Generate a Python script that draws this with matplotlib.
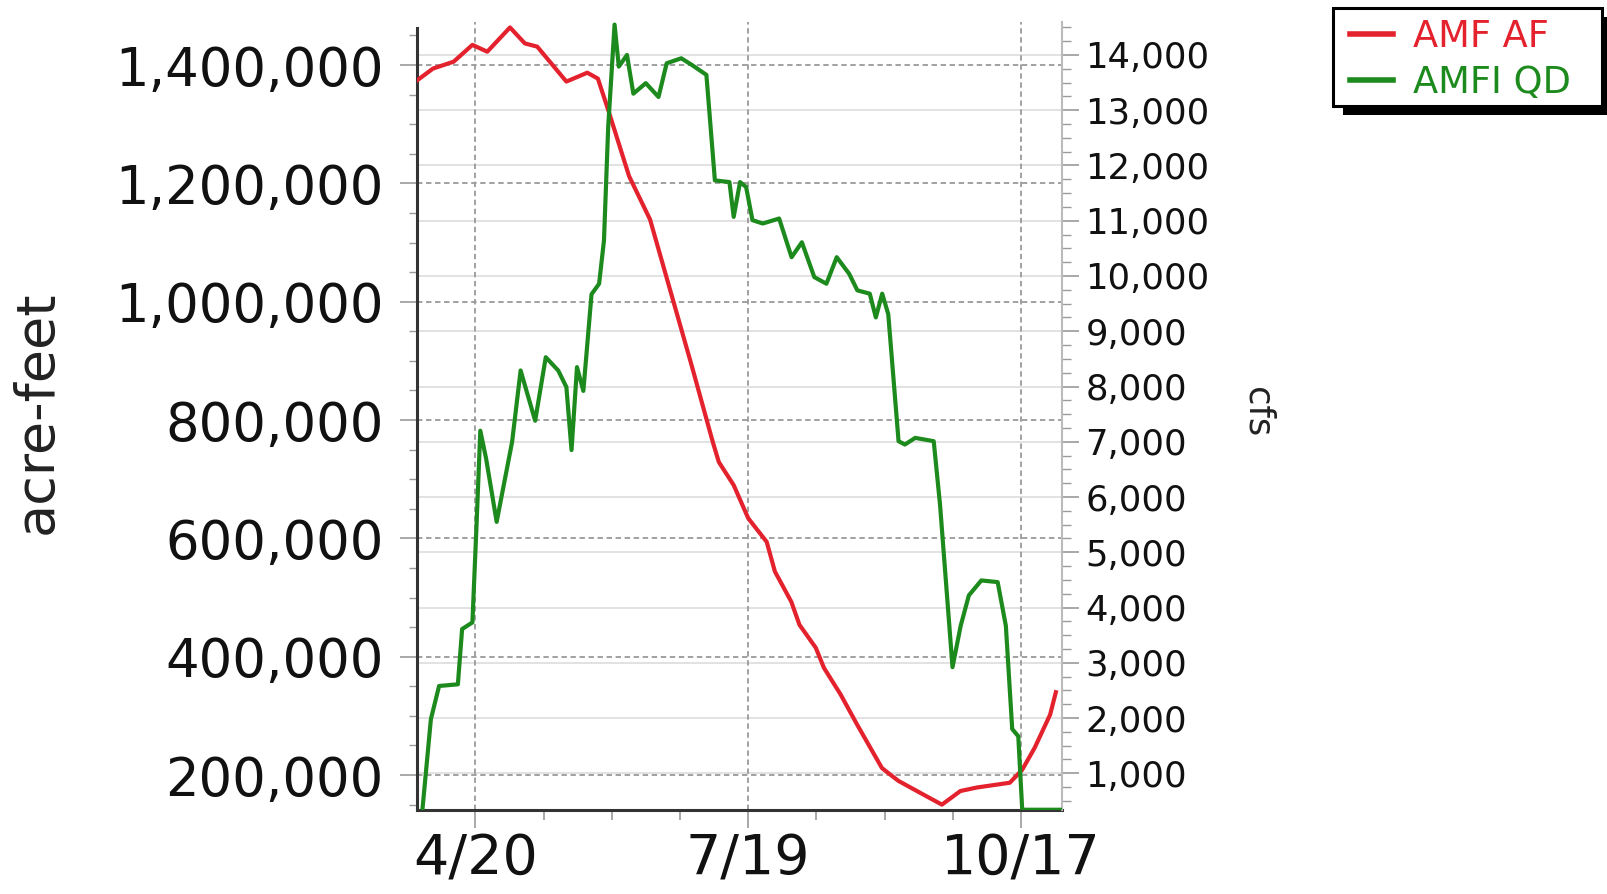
import numpy as np
import pandas as pd
import matplotlib
matplotlib.use("Agg")
import matplotlib.pyplot as plt
from matplotlib.ticker import MultipleLocator, FuncFormatter, FixedLocator
from matplotlib.patches import Rectangle

# days counted from April 1
start = pd.Timestamp("2021-04-01")

af_days = [0, 5.0, 11.8, 18.0, 22.9, 30.4, 35.3, 39.4, 49.0, 55.9,
           59.4, 62.8, 69.7, 76.6, 83.5, 90.4, 97.3, 99.3, 104.2, 109.0,
           115.1, 117.8, 123.2, 125.9, 131.3, 134.0, 139.5, 144.9, 153.1, 155.8,
           158.6, 166.8, 172.9, 179.0, 184.5, 195.3, 199.4, 203.5, 208.6, 210.5]
af_vals = [1375000, 1394000, 1405600, 1434000, 1422500, 1463500, 1436500, 1431000, 1372000, 1387000,
           1377000, 1324000, 1212000, 1139000, 1015000, 891000, 763000, 729000, 690000, 634000,
           594000, 544000, 493000, 454000, 415000, 381000, 336000, 285500, 212000, 201000,
           190000, 167000, 150000, 173000, 179000, 187000, 209000, 246000, 302000, 340000]

qd_days = [1.5, 4.3, 7.0, 13.2, 14.6, 18.0, 19.4, 20.6, 22.5, 26.0,
           31.1, 33.9, 38.7, 42.2, 46.3, 49.0, 50.7, 52.5, 54.6, 57.3,
           59.8, 61.4, 62.8, 64.9, 66.3, 69.0, 71.1, 75.2, 79.4, 82.1,
           86.9, 90.4, 95.2, 98.0, 102.8, 104.2, 106.3, 108.3, 110.4, 113.8,
           119.2, 123.3, 126.7, 130.8, 134.8, 138.2, 142.3, 145.0, 149.1, 151.1,
           153.2, 155.2, 158.6, 160.7, 164.1, 170.2, 172.3, 176.4, 179.1, 181.8,
           185.9, 191.3, 194.0, 196.1, 198.1, 199.4, 213]
qd_vals = [340, 1980, 2580, 2610, 3610, 3730, 5550, 7200, 6700, 5550,
           7000, 8290, 7380, 8530, 8290, 7990, 6850, 8350, 7920, 9670,
           9860, 10640, 12700, 14550, 13790, 14000, 13300, 13490, 13240, 13850,
           13940, 13820, 13640, 11730, 11700, 11070, 11700, 11610, 11010, 10950,
           11040, 10340, 10610, 9980, 9860, 10340, 10040, 9740, 9680, 9250,
           9680, 9310, 7010, 6950, 7070, 7010, 5850, 2920, 3670, 4220,
           4490, 4460, 3670, 1800, 1670, 340, 340]

tick_dates = ["2021-04-20", "2021-07-19", "2021-10-17"]
tick_labels = ["4/20", "7/19", "10/17"]
series_names = ["AMF AF", "AMFI QD"]

RED = "#e3222e"
GREEN = "#1d8a1d"
GRID = "#9a9a9a"
W, H = 1608, 894

af_x = start + pd.to_timedelta(af_days, unit="D")
qd_x = start + pd.to_timedelta(qd_days, unit="D")
major = pd.to_datetime(tick_dates)

fig = plt.figure(figsize=(W / 100, H / 100), dpi=100)
ax = fig.add_axes([0.2593, 0.0940, 0.4011, 0.8814])
ax2 = ax.twinx()

ax.plot(af_x, af_vals, color=RED, lw=3.0, label=series_names[0], zorder=3)
ax2.plot(qd_x, qd_vals, color=GREEN, lw=3.0, label=series_names[1], zorder=3)

ax.set_xlim(start - pd.Timedelta(days=0.3), start + pd.Timedelta(days=212.5))
ax.set_ylim(141000, 1472700)
ax2.set_ylim(336, 14597)

# x ticks
mnum = matplotlib.dates.date2num(major)
step = (mnum[1] - mnum[0]) / 4
ax.xaxis.set_major_locator(FixedLocator(mnum))
ax.xaxis.set_minor_locator(FixedLocator([m + k * step for m in mnum[:-1] for k in (1, 2, 3)]))
ax.set_xticklabels(tick_labels)

ax.yaxis.set_major_locator(MultipleLocator(200000))
ax.yaxis.set_minor_locator(MultipleLocator(50000))
ax.yaxis.set_major_formatter(FuncFormatter(lambda v, p: f"{int(v):,}"))
ax2.yaxis.set_major_locator(MultipleLocator(1000))
ax2.yaxis.set_minor_locator(MultipleLocator(250))
ax2.yaxis.set_major_formatter(FuncFormatter(lambda v, p: f"{int(v):,}"))

ax.tick_params(axis="x", which="major", length=13, width=1.2, color=GRID, labelsize=40, pad=3, labelcolor="#111111")
ax.tick_params(axis="x", which="minor", length=7, width=1.2, color=GRID)
ax.tick_params(axis="y", which="major", length=12, width=1.2, color=GRID, labelsize=38, pad=12, labelcolor="#111111")
ax.tick_params(axis="y", which="minor", length=6, width=1.0, color=GRID)
ax2.tick_params(axis="y", which="major", length=12, width=1.2, color=GRID, labelsize=25.5, pad=5, labelcolor="#111111")
ax2.tick_params(axis="y", which="minor", length=6.5, width=1.0, color=GRID)

# grids: dashed for left axis and dates, light solid for right axis
ax.grid(True, which="major", axis="both", color=GRID, lw=1.3, ls=(0, (3, 2)), zorder=1)
c0, c1 = ax2.get_ylim()
for t in np.arange(1000, 14001, 1000):
    f = (t - c0) / (c1 - c0)
    ax.plot([0, 1], [f, f], transform=ax.transAxes, color="#dddddd", lw=1.2, zorder=0.5)

for a in (ax, ax2):
    a.spines["top"].set_visible(False)
ax.spines["left"].set_color("#333333")
ax.spines["left"].set_linewidth(2.2)
ax.spines["left"].set_bounds(141000, 1462000)
ax.spines["bottom"].set_color("#333333")
ax.spines["bottom"].set_linewidth(2.2)
ax.spines["right"].set_visible(False)
ax2.spines["left"].set_visible(False)
ax2.spines["bottom"].set_visible(False)
ax2.spines["right"].set_color("#bbbbbb")
ax2.spines["right"].set_linewidth(1.5)

ax.set_ylabel("acre-feet", fontsize=39, color="#222222", va="center")
ax.yaxis.set_label_coords(-0.589, 0.505)
ax2.set_ylabel("cfs", fontsize=25.5, color="#222222", rotation=270, va="center")
ax2.yaxis.set_label_coords(1.304, 0.505)

# legend box with hard black drop shadow
bx, by, bw, bh = 1333, 8, 269, 98
fig.add_artist(Rectangle(((bx + 10) / W, 1 - (by + bh + 9) / H), bw / W, bh / H,
                         transform=fig.transFigure, facecolor="black",
                         edgecolor="none", zorder=4))
fig.add_artist(Rectangle((bx / W, 1 - (by + bh) / H), bw / W, bh / H,
                         transform=fig.transFigure, facecolor="white",
                         edgecolor="black", lw=2.2, zorder=4.5))

handles = ax.get_lines()[:1] + ax2.get_lines()[:1]
leg = fig.legend(handles, series_names, loc="upper left",
                 bbox_to_anchor=(1350 / W, 1 - 18 / H), borderaxespad=0,
                 fontsize=26.5, labelcolor="linecolor", frameon=False,
                 handlelength=1.17, handletextpad=0.55, borderpad=0,
                 labelspacing=0.25)
leg.set_zorder(5)
for ln in leg.get_lines():
    ln.set_linewidth(4)

fig.savefig("out.png", dpi=100)
